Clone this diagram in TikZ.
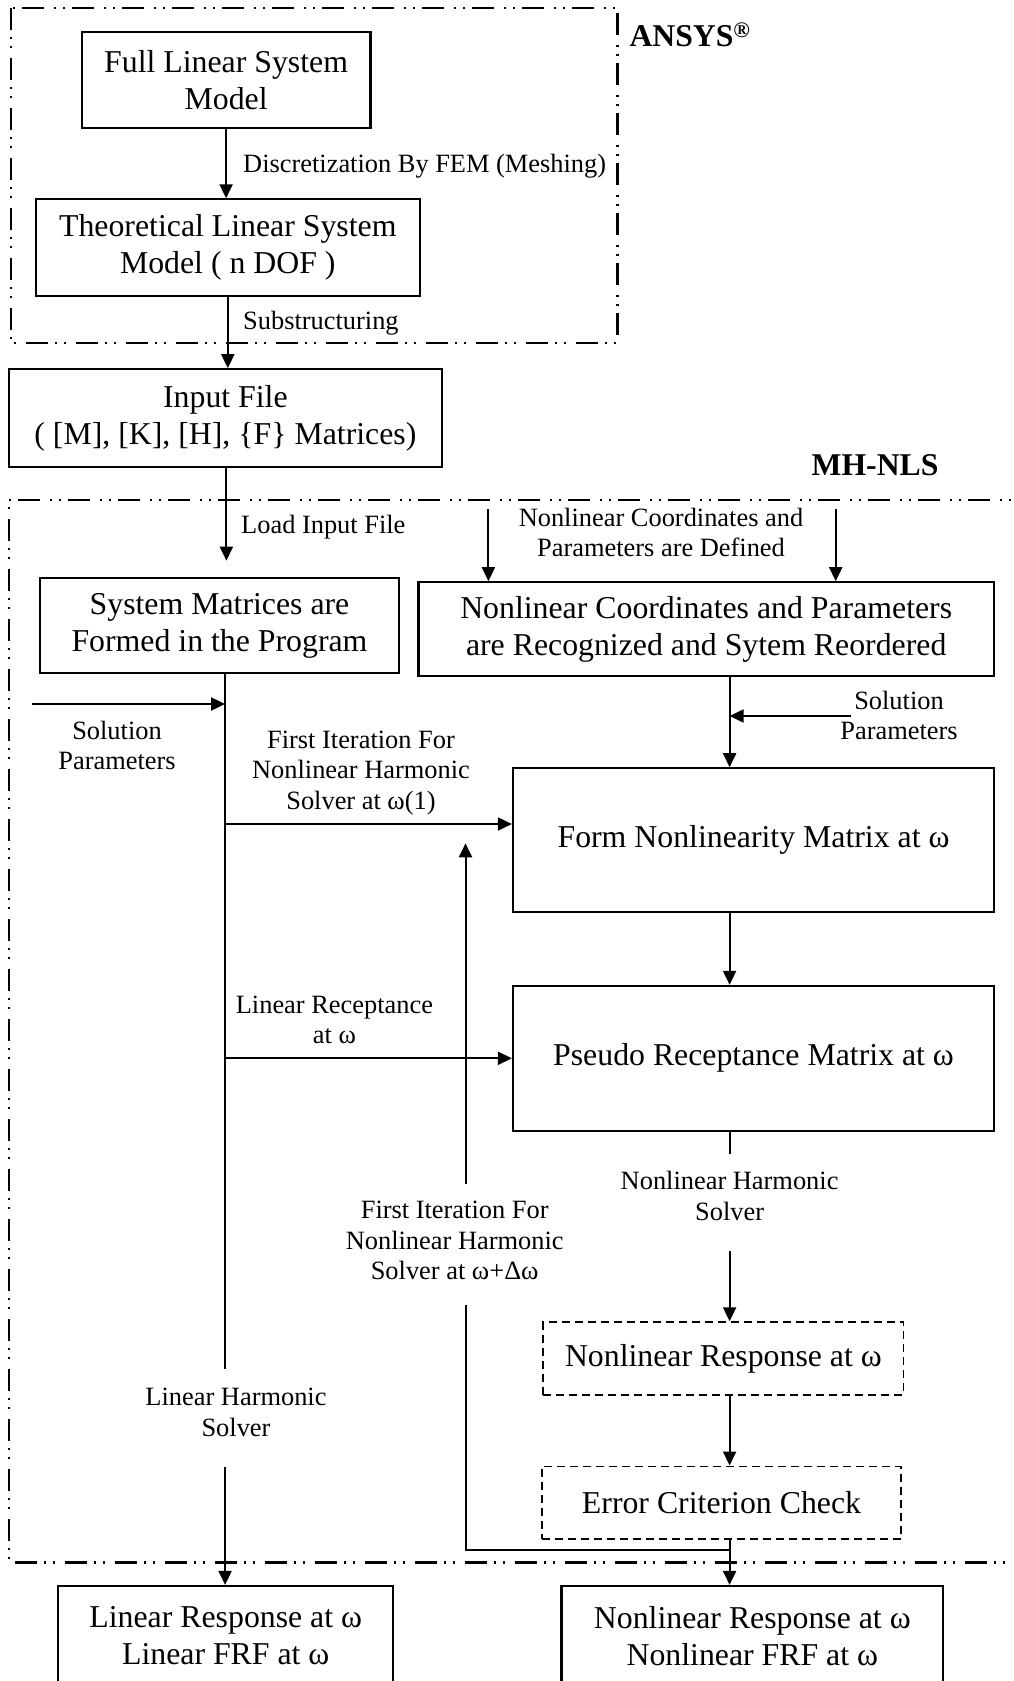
\documentclass[tikz,border=0pt]{standalone}
\usepackage{fontspec}
\setmainfont{Liberation Serif}
\usetikzlibrary{arrows.meta,calc}
\newcommand\myboxfont{\fontsize{31.8}{37}\selectfont}
\newcommand\mylblfont{\fontsize{26.4}{30.5}\selectfont}
\newcommand\myttlfont{\fontsize{31.7}{36}\selectfont\bfseries}
\begin{document}
\begin{tikzpicture}[x=1pt,y=-1pt,
  box/.style={draw, line width=2.2pt, inner sep=0pt, align=center, font=\myboxfont},
  dbox/.style={box, line width=1.7pt, dash pattern=on 8pt off 5pt},
  lbl/.style={inner sep=0pt, align=center, font=\mylblfont},
  arr/.style={line width=2pt, -{Triangle[length=14pt,width=13pt]}},
  ln/.style={line width=2pt},
  region/.style={line width=2.5pt, dash pattern=on 22pt off 7pt on 2pt off 7pt on 2pt off 10pt},
  ttl/.style={inner sep=0pt, font=\myttlfont}]
\useasboundingbox (0,0) rectangle (1014,1681);
\clip (0,0) rectangle (1014,1681);

% regions
\draw[region] (11,8) rectangle (617.5,343);
\draw[region] (1040,500) -- (9,500) -- (9,1562.6) -- (1040,1562.6);
\node[ttl, anchor=base west] (ansys) at (629.3,46.7) {ANSYS\textsuperscript{\textregistered}};
\node[ttl] (mhnls) at (875,465) {MH-NLS};

% boxes
\node[box, minimum width=288.8pt, minimum height=96pt] (full) at (226.1,79.7) {Full Linear System\\Model};
\node[box, minimum width=384.4pt, minimum height=96.7pt] (theo) at (227.8,247.7) {Theoretical Linear System\\Model ( n DOF )};
\node[box, minimum width=432.8pt, minimum height=97.4pt] (input) at (225.4,418) {Input File\\( [M], [K], [H], \{F\} Matrices)};
\node[box, minimum width=358.9pt, minimum height=95.6pt] (sysm) at (219.5,625.5) {System Matrices are\\Formed in the Program};
\node[box, minimum width=575.5pt, minimum height=93.4pt] (ncoord) at (706.2,629) {Nonlinear Coordinates and Parameters\\are Recognized and Sytem Reordered};
\node[box, minimum width=481pt, minimum height=143.4pt] (form) at (753.5,840) {Form Nonlinearity Matrix at ω};
\node[box, minimum width=481pt, minimum height=144.7pt] (pseudo) at (753.5,1058.3) {Pseudo Receptance Matrix at ω};
\node[dbox, minimum width=360.3pt, minimum height=72.7pt] (nresp) at (723.4,1358.5) {Nonlinear Response at ω};
\node[dbox, minimum width=359pt, minimum height=72.3pt] (ecc) at (721.5,1502.5) {Error Criterion Check};
\node[box, minimum width=335.1pt, minimum height=100pt] (lin) at (225.75,1636) {Linear Response at ω\\Linear FRF at ω};
\node[box, minimum width=381.7pt, minimum height=100pt] (nlin) at (752.3,1636) {Nonlinear Response at ω\\Nonlinear FRF at ω};

% labels
\node[lbl, anchor=west] (l1) at (243,165.7) {Discretization By FEM (Meshing)};
\node[lbl, anchor=west] (l2) at (243,322.7) {Substructuring};
\node[lbl, anchor=west] (l3) at (241,526.7) {Load Input File};
\node[lbl] (l4) at (661,532.3) {Nonlinear Coordinates and\\Parameters are Defined};
\node[lbl] (l5) at (117,745.3) {Solution\\Parameters};
\node[lbl] (l6) at (899,715.3) {Solution\\Parameters};
\node[lbl] (l7) at (361,772.6) {First Iteration For\\Nonlinear Harmonic\\Solver at ω(1)};
\node[lbl] (l8) at (334.4,1019.7) {Linear Receptance\\at ω};
\node[lbl] (l9) at (729.6,1196) {Nonlinear Harmonic\\Solver};
\node[lbl] (l10) at (454.7,1240.8) {First Iteration For\\Nonlinear Harmonic\\Solver at ω+Δω};
\node[lbl] (l11) at (236,1412.5) {Linear Harmonic\\Solver};

% helper coordinates
\coordinate (lv) at (225.1,0);
\coordinate (rv) at (729.6,0);
\coordinate (fb) at (465.5,0);
\coordinate (li) at (226.4,560.7);
\coordinate (d1) at (488.4,509);
\coordinate (d2) at (835.7,509);
\coordinate (sl) at (32.3,704);
\coordinate (sr) at (850.6,716);
\coordinate (h1) at (225.1,824);
\coordinate (h2) at (225.1,1058.3);
\coordinate (lhs1) at (225.1,1369.4);
\coordinate (lhs2) at (225.1,1467);
\coordinate (nhs1) at (729.6,1154);
\coordinate (nhs2) at (729.6,1250.6);
\coordinate (fbup) at (465.5,1183.7);
\coordinate (fbtip) at (465.5,843.3);
\coordinate (fblo) at (465.5,1305.3);
\coordinate (fbj) at (729.6,1550);

% connectors
\draw[arr] (full.south) -- (full.south |- theo.north);
\draw[arr] (theo.south) -- (theo.south |- input.north);
\draw[arr] (input.south -| li) -- (li);
\draw[arr] (d1) -- (d1 |- ncoord.north);
\draw[arr] (d2) -- (d2 |- ncoord.north);
\draw[ln] (lv |- sysm.south) -- (lhs1);
\draw[arr] (lhs2) -- (lhs2 |- lin.north);
\draw[arr] (sl) -- (lv |- sl);
\draw[arr] (h1) -- (form.west |- h1);
\draw[arr] (h2) -- (pseudo.west |- h2);
\draw[arr] (rv |- ncoord.south) -- (rv |- form.north);
\draw[arr] (sr) -- (rv |- sr);
\draw[arr] (rv |- form.south) -- (rv |- pseudo.north);
\draw[ln] (rv |- pseudo.south) -- (nhs1);
\draw[arr] (nhs2) -- (rv |- nresp.north);
\draw[arr] (rv |- nresp.south) -- (rv |- ecc.north);
\draw[arr] (rv |- ecc.south) -- (rv |- nlin.north);
\draw[ln] (fbj) -- (fb |- fbj) -- (fblo);
\draw[arr] (fbup) -- (fbtip);
\end{tikzpicture}
\end{document}
